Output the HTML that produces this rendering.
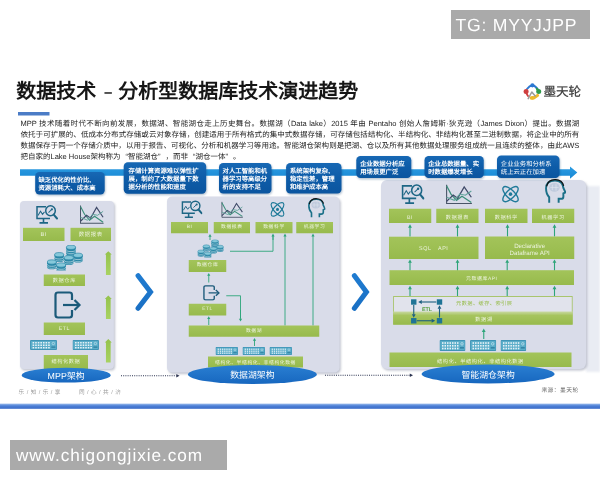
<!DOCTYPE html>
<html lang="zh-CN">
<head>
<meta charset="utf-8">
<title>数据技术 - 分析型数据库技术演进趋势</title>
<style>
html,body{margin:0;padding:0;}
body{width:600px;height:480px;overflow:hidden;background:#ffffff;position:relative;font-family:"Liberation Sans",sans-serif;}
#stage{position:absolute;left:0;top:0;width:600px;height:480px;overflow:hidden;background:#fff;}
#stage svg{position:absolute;left:0;top:0;}
.t{text-rendering:geometricPrecision;position:absolute;margin:0;padding:0;font-family:"Liberation Sans",sans-serif;overflow:visible;white-space:nowrap;}
#soft{filter:blur(0.35px);}
.ql,.qr{display:inline-block;width:1em;}
.ql{text-align:right;}
.qr{text-align:left;}
</style>
</head>
<body>
<div id="stage">
<div id="soft">
<svg width="600" height="480" viewBox="0 0 600 480">
<defs>
<linearGradient id="gg" x1="0" y1="0" x2="0" y2="1"><stop offset="0" stop-color="#a3c45a"/><stop offset="1" stop-color="#97ba4c"/></linearGradient>
<linearGradient id="gg2" x1="0" y1="0" x2="0" y2="1"><stop offset="0" stop-color="#c9d9a4"/><stop offset=".3" stop-color="#a6c45e"/><stop offset="1" stop-color="#97ba4c"/></linearGradient>
<linearGradient id="fa" x1="0" y1="0" x2="0" y2="1"><stop offset="0" stop-color="#94c24c"/><stop offset="1" stop-color="#a8d262"/></linearGradient>
<linearGradient id="cg" x1="0" y1="0" x2="0" y2="1"><stop offset="0" stop-color="#1768b4"/><stop offset=".5" stop-color="#0e5ca8"/><stop offset="1" stop-color="#0a559f"/></linearGradient>
<linearGradient id="bg" x1="0" y1="0" x2="0" y2="1"><stop offset="0" stop-color="#2c9ce2"/><stop offset="1" stop-color="#1888d4"/></linearGradient>
<linearGradient id="eg" x1="0" y1="0" x2="0" y2="1"><stop offset="0" stop-color="#2a7fd2"/><stop offset="1" stop-color="#1767bf"/></linearGradient>
<linearGradient id="chg" x1="0" y1="0" x2="0" y2="1"><stop offset="0" stop-color="#1f7bd0"/><stop offset="1" stop-color="#1a70c4"/></linearGradient>
<linearGradient id="lg" x1="0" y1="0" x2="0" y2="1"><stop offset="0" stop-color="#9cbcec"/><stop offset=".45" stop-color="#4c7fd6"/><stop offset="1" stop-color="#3b6cc8"/></linearGradient>
<filter id="b1" x="-20%" y="-20%" width="140%" height="140%"><feGaussianBlur stdDeviation="0.9"/></filter>
<filter id="b2" x="-20%" y="-20%" width="140%" height="140%"><feGaussianBlur stdDeviation="1.3"/></filter>

<g id="cyl">
<path d="M-10,0 V10 A10,4.6 0 0 0 10,10 V0Z" fill="#2b87a7"/>
<path d="M-10,4 A10,4.6 0 0 0 10,4" fill="none" stroke="#cfe6ee" stroke-width="1.3"/>
<path d="M-10,8 A10,4.6 0 0 0 10,8" fill="none" stroke="#cfe6ee" stroke-width="1.1"/>
<ellipse cx="0" cy="0" rx="9.6" ry="4.3" fill="#86c8da" stroke="#2b87a7" stroke-width="1.4"/>
</g>

<symbol id="mon" viewBox="0 0 46 40" preserveAspectRatio="none">
<path d="M22,4 H4 V27 H30" fill="none" stroke="#1d6685" stroke-width="3"/>
<path d="M17,28 V34 M9,35.5 H26" stroke="#1d6685" stroke-width="3.2" fill="none"/>
<path d="M6,21 L11,13 L15,19 L19,14" stroke="#1d6685" stroke-width="2" fill="none"/>
<circle cx="31" cy="12" r="9.6" fill="#d9dce9" stroke="#1d6685" stroke-width="3"/>
<path d="M27,15.5 L33.5,9.5" stroke="#1d6685" stroke-width="2"/>
<circle cx="33.8" cy="9.2" r="2.2" fill="#1d6685"/>
<path d="M37.5,19.5 L44,27" stroke="#1d6685" stroke-width="4" stroke-linecap="round"/>
</symbol>

<symbol id="cht" viewBox="0 0 50 42" preserveAspectRatio="none">
<path d="M2,2 V38 H48" fill="none" stroke="#4a5568" stroke-width="2"/>
<path d="M2,4 L10,20 L20,32 L30,24 L47,36" fill="none" stroke="#3c8f7a" stroke-width="2.3"/>
<path d="M2,34 L14,22 L22,28 L34,6 L47,26" fill="none" stroke="#3f4a68" stroke-width="2.3"/>
<path d="M2,26 L16,32 L26,20 L36,22 L47,14" fill="none" stroke="#5fa39a" stroke-width="1.9"/>
</symbol>

<symbol id="exp" viewBox="0 0 56 56" preserveAspectRatio="none">
<path d="M36,18 V8 Q36,3 31,3 H8 Q3,3 3,8 V48 Q3,53 8,53 H31 Q36,53 36,48 V38" fill="none" stroke="#1b5a7a" stroke-width="4.4"/>
<path d="M18,28 H50" stroke="#1b5a7a" stroke-width="4.4" fill="none"/>
<path d="M41,18 L51,28 L41,38" stroke="#1b5a7a" stroke-width="4.4" fill="none"/>
</symbol>

<symbol id="atm" viewBox="0 0 40 40" preserveAspectRatio="none">
<ellipse cx="20" cy="20" rx="19" ry="8" transform="rotate(45 20 20)" fill="none" stroke="#1f7a99" stroke-width="2.6"/>
<ellipse cx="20" cy="20" rx="19" ry="8" transform="rotate(-45 20 20)" fill="none" stroke="#1f7a99" stroke-width="2.6"/>
<circle cx="20" cy="20" r="3.4" fill="#1f7a99"/>
</symbol>

<symbol id="hed" viewBox="0 0 40 46" preserveAspectRatio="none">
<path d="M8,44 V34 Q2,28 2,18 Q2,3 19,3 Q34,3 35,17 L39,25 L35,27 V33 Q35,37 30,37 H26 V44" fill="none" stroke="#1b7088" stroke-width="3.7"/>
<path d="M3,14 Q6,1 20,1.5 Q33,2 35.5,13" fill="none" stroke="#111" stroke-width="2.4"/>
<ellipse cx="18" cy="16" rx="10" ry="8" fill="#b9c6da" opacity=".8"/>
<path d="M10,16 H26 M14,11 V21 M21,10 V22" stroke="#dfe6f0" stroke-width="1.2"/>
</symbol>

<symbol id="dbs" viewBox="0 0 75 51" preserveAspectRatio="none">
<use href="#cyl" x="50" y="9.5"/>
<use href="#cyl" x="50" y="4.6"/>
<use href="#cyl" x="25.4" y="19.4"/>
<use href="#cyl" x="64.6" y="20.6"/>
<use href="#cyl" x="45.4" y="25.4"/>
<use href="#cyl" x="10" y="34"/>
<use href="#cyl" x="29.4" y="40"/>
</symbol>

<symbol id="srv" viewBox="0 0 52 20" preserveAspectRatio="none">
<rect x="0" y="0" width="52" height="20" rx="2" fill="#3f94b6"/>
<rect x="1.5" y="2" width="49" height="16" rx="1" fill="#5badc9"/>
<g fill="#e8f3f8">
<rect x="5" y="4" width="3" height="3"/><rect x="10" y="4" width="3" height="3"/><rect x="15" y="4" width="3" height="3"/><rect x="20" y="4" width="3" height="3"/><rect x="25" y="4" width="3" height="3"/><rect x="30" y="4" width="3" height="3"/><rect x="35" y="4" width="3" height="3"/>
<rect x="5" y="9" width="3" height="3"/><rect x="10" y="9" width="3" height="3"/><rect x="15" y="9" width="3" height="3"/><rect x="20" y="9" width="3" height="3"/><rect x="25" y="9" width="3" height="3"/><rect x="30" y="9" width="3" height="3"/><rect x="35" y="9" width="3" height="3"/>
<rect x="5" y="14" width="3" height="3"/><rect x="10" y="14" width="3" height="3"/><rect x="15" y="14" width="3" height="3"/><rect x="20" y="14" width="3" height="3"/><rect x="25" y="14" width="3" height="3"/><rect x="30" y="14" width="3" height="3"/><rect x="35" y="14" width="3" height="3"/>
</g>
<circle cx="45" cy="7" r="2.4" fill="none" stroke="#e8f3f8" stroke-width="1"/>
<rect x="41" y="13" width="8" height="2.5" fill="#2d7f9f"/>
</symbol>
</defs>
<path d="M20,169.3 H570 V166.4 L577.3,172.5 L570,178.8 V175.7 H20 Z" fill="url(#bg)"/>
<rect x="21.20" y="202.60" width="93.90" height="167.90" rx="4" fill="#8d93a8" opacity=".55" filter="url(#b2)"/>
<rect x="20.00" y="201.10" width="93.90" height="167.90" rx="4" fill="#d9dce9" />
<use href="#mon" x="35.00" y="204.60" width="23.00" height="20.60"/>
<use href="#cht" x="79.50" y="204.40" width="25.10" height="20.80"/>
<rect x="23.00" y="227.80" width="41.50" height="13.20" rx="0" fill="url(#gg)" />
<rect x="70.50" y="227.80" width="40.50" height="13.20" rx="0" fill="url(#gg)" />
<use href="#dbs" x="47.00" y="245.00" width="36.00" height="25.50"/>
<rect x="43.75" y="274.50" width="41.25" height="11.50" rx="0" fill="url(#gg)" />
<use href="#exp" x="54.00" y="291.00" width="28.00" height="28.00"/>
<rect x="43.75" y="322.50" width="41.25" height="12.50" rx="0" fill="url(#gg)" />
<use href="#srv" x="30.00" y="340.00" width="27.00" height="10.00"/>
<use href="#srv" x="72.50" y="340.00" width="26.50" height="10.00"/>
<rect x="43.75" y="355.00" width="44.25" height="14.00" rx="0" fill="url(#gg)" />
<path d="M108.3,251.2 L111.8,254.6 L110.64999999999999,254.6 L110.64999999999999,275 L105.95,275 L105.95,254.6 L104.8,254.6 Z" fill="url(#fa)"/>
<path d="M108.3,295.5 L111.8,298.9 L110.64999999999999,298.9 L110.64999999999999,319 L105.95,319 L105.95,298.9 L104.8,298.9 Z" fill="url(#fa)"/>
<path d="M108.3,339 L111.8,342.4 L110.64999999999999,342.4 L110.64999999999999,362.6 L105.95,362.6 L105.95,342.4 L104.8,342.4 Z" fill="url(#fa)"/>
<ellipse cx="66.2" cy="375.2" rx="44.6" ry="7.4" fill="url(#eg)"/>
<rect x="35.80" y="173.30" width="69.50" height="22.30" rx="4.2" fill="#0a3a6a" opacity=".35" filter="url(#b1)"/>
<rect x="35.20" y="172.10" width="69.50" height="22.30" rx="4.2" fill="url(#cg)" />
<path d="M138.1,275.75 L150.5,292 L138.1,308.25" stroke="url(#chg)" stroke-width="5.1" stroke-linecap="round" stroke-linejoin="miter" fill="none"/>
<path d="M121,375.7 L176.5,375.7" stroke="#2b3350" stroke-width="1.1" stroke-dasharray="1 1.2" fill="none"/>
<path d="M179.5,375.7 L176.3,374.0 L176.3,377.4 Z" fill="#2b3350"/>
<rect x="168.20" y="198.10" width="172.60" height="175.90" rx="5" fill="#8d93a8" opacity=".55" filter="url(#b2)"/>
<rect x="167.00" y="196.60" width="172.60" height="175.90" rx="5" fill="#d9dce9" />
<rect x="124.30" y="163.50" width="82.50" height="31.40" rx="4.2" fill="#0a3a6a" opacity=".35" filter="url(#b1)"/>
<rect x="123.70" y="162.30" width="82.50" height="31.40" rx="4.2" fill="url(#cg)" />
<rect x="219.60" y="164.30" width="52.50" height="30.50" rx="4.2" fill="#0a3a6a" opacity=".35" filter="url(#b1)"/>
<rect x="219.00" y="163.10" width="52.50" height="30.50" rx="4.2" fill="url(#cg)" />
<rect x="286.70" y="164.30" width="55.40" height="30.50" rx="4.2" fill="#0a3a6a" opacity=".35" filter="url(#b1)"/>
<rect x="286.10" y="163.10" width="55.40" height="30.50" rx="4.2" fill="url(#cg)" />
<use href="#mon" x="180.50" y="200.00" width="22.00" height="19.50"/>
<use href="#cht" x="221.00" y="201.00" width="22.75" height="18.00"/>
<use href="#atm" x="268.75" y="200.00" width="17.50" height="18.75"/>
<use href="#hed" x="308.00" y="198.00" width="17.50" height="20.00"/>
<rect x="171.00" y="222.00" width="37.00" height="11.25" rx="0" fill="url(#gg)" />
<rect x="213.75" y="222.00" width="36.25" height="11.25" rx="0" fill="url(#gg)" />
<rect x="255.50" y="222.00" width="37.00" height="11.25" rx="0" fill="url(#gg)" />
<rect x="296.25" y="222.00" width="36.75" height="11.25" rx="0" fill="url(#gg)" />
<path d="M210,240 L210,236.0" stroke="#2ea57a" stroke-width="0.9" fill="none"/>
<path d="M210,234 L211.6,236.8 L208.4,236.8 Z" fill="#2ea57a"/>
<use href="#dbs" x="197.50" y="239.50" width="26.25" height="18.00"/>
<path d="M230,251.25 H273 V236" stroke="#2ea57a" stroke-width=".9" fill="none"/>
<path d="M273,240 L273,235.6" stroke="#2ea57a" stroke-width="0.9" fill="none"/>
<path d="M273,233.6 L274.6,236.4 L271.4,236.4 Z" fill="#2ea57a"/>
<path d="M285,325.5 L285,235.6" stroke="#2ea57a" stroke-width="0.9" fill="none"/>
<path d="M285,233.6 L286.6,236.4 L283.4,236.4 Z" fill="#2ea57a"/>
<path d="M313,325.5 L313,235.6" stroke="#2ea57a" stroke-width="0.9" fill="none"/>
<path d="M313,233.6 L314.6,236.4 L311.4,236.4 Z" fill="#2ea57a"/>
<rect x="188.75" y="260.00" width="37.50" height="12.00" rx="0" fill="url(#gg)" />
<path d="M208.75,282.5 L208.75,275.0" stroke="#2ea57a" stroke-width="0.9" fill="none"/>
<path d="M208.75,273 L210.35,275.8 L207.15,275.8 Z" fill="#2ea57a"/>
<use href="#exp" x="203.00" y="285.00" width="17.50" height="15.75"/>
<path d="M226.25,295.75 H240.5 V318" stroke="#2ea57a" stroke-width=".9" fill="none"/>
<path d="M240.5,310 L240.5,319.5" stroke="#2ea57a" stroke-width="0.9" fill="none"/>
<path d="M240.5,321.5 L242.1,318.7 L238.9,318.7 Z" fill="#2ea57a"/>
<rect x="188.75" y="303.75" width="37.50" height="11.75" rx="0" fill="url(#gg)" />
<path d="M208.75,325 L208.75,318.3" stroke="#2ea57a" stroke-width="0.9" fill="none"/>
<path d="M208.75,316.3 L210.35,319.1 L207.15,319.1 Z" fill="#2ea57a"/>
<rect x="188.75" y="325.50" width="130.50" height="11.25" rx="0" fill="url(#gg)" />
<path d="M254.5,346 L254.5,340.0" stroke="#2ea57a" stroke-width="0.9" fill="none"/>
<path d="M254.5,338 L256.1,340.8 L252.9,340.8 Z" fill="#2ea57a"/>
<use href="#srv" x="215.50" y="347.00" width="22.50" height="8.00"/>
<use href="#srv" x="242.50" y="347.00" width="22.50" height="8.00"/>
<use href="#srv" x="269.50" y="347.00" width="22.50" height="8.00"/>
<rect x="208.00" y="356.50" width="95.00" height="11.00" rx="0" fill="url(#gg)" />
<ellipse cx="252.4" cy="374.5" rx="64.4" ry="9.6" fill="url(#eg)"/>
<path d="M354.4,275.75 L366.4,292 L354.4,308.25" stroke="url(#chg)" stroke-width="5.1" stroke-linecap="round" stroke-linejoin="miter" fill="none"/>
<path d="M325,375.3 L410,375.3" stroke="#2b3350" stroke-width="1.1" stroke-dasharray="1 1.2" fill="none"/>
<path d="M413,375.3 L409.8,373.6 L409.8,377.0 Z" fill="#2b3350"/>
<rect x="586" y="186" width="14" height="186" fill="#e9ecf3" filter="url(#b2)"/>
<rect x="382.20" y="181.50" width="205.00" height="189.00" rx="6" fill="#8d93a8" opacity=".55" filter="url(#b2)"/>
<rect x="381.00" y="180.00" width="205.00" height="189.00" rx="6" fill="#d9dce9" />
<rect x="356.90" y="157.20" width="55.00" height="22.00" rx="4.2" fill="#0a3a6a" opacity=".35" filter="url(#b1)"/>
<rect x="356.30" y="156.00" width="55.00" height="22.00" rx="4.2" fill="url(#cg)" />
<rect x="425.10" y="157.20" width="59.25" height="22.00" rx="4.2" fill="#0a3a6a" opacity=".35" filter="url(#b1)"/>
<rect x="424.50" y="156.00" width="59.25" height="22.00" rx="4.2" fill="url(#cg)" />
<rect x="497.60" y="156.70" width="62.50" height="22.50" rx="4.2" fill="#0a3a6a" opacity=".35" filter="url(#b1)"/>
<rect x="497.00" y="155.50" width="62.50" height="22.50" rx="4.2" fill="url(#cg)" />
<use href="#mon" x="400.50" y="183.75" width="24.00" height="21.75"/>
<use href="#cht" x="445.50" y="183.75" width="27.50" height="21.75"/>
<use href="#atm" x="500.00" y="183.75" width="21.00" height="20.75"/>
<use href="#hed" x="545.00" y="178.75" width="21.00" height="25.00"/>
<rect x="389.00" y="208.75" width="42.25" height="14.25" rx="0" fill="url(#gg)" />
<rect x="436.25" y="208.75" width="42.25" height="14.25" rx="0" fill="url(#gg)" />
<rect x="485.00" y="208.75" width="42.50" height="14.25" rx="0" fill="url(#gg)" />
<rect x="532.00" y="208.75" width="42.25" height="14.25" rx="0" fill="url(#gg)" />
<path d="M410,236.5 L410,226.70000000000002" stroke="#2ea57a" stroke-width="1.1" fill="none"/>
<path d="M410,224.3 L411.92,227.66000000000003 L408.08,227.66000000000003 Z" fill="#2ea57a"/>
<path d="M457.5,236.5 L457.5,226.70000000000002" stroke="#2ea57a" stroke-width="1.1" fill="none"/>
<path d="M457.5,224.3 L459.42,227.66000000000003 L455.58,227.66000000000003 Z" fill="#2ea57a"/>
<path d="M507.5,236.5 L507.5,226.70000000000002" stroke="#2ea57a" stroke-width="1.1" fill="none"/>
<path d="M507.5,224.3 L509.42,227.66000000000003 L505.58,227.66000000000003 Z" fill="#2ea57a"/>
<path d="M554.5,236.5 L554.5,226.70000000000002" stroke="#2ea57a" stroke-width="1.1" fill="none"/>
<path d="M554.5,224.3 L556.42,227.66000000000003 L552.58,227.66000000000003 Z" fill="#2ea57a"/>
<rect x="389.00" y="236.70" width="89.50" height="22.30" rx="0" fill="url(#gg)" />
<rect x="485.00" y="236.50" width="89.25" height="22.50" rx="0" fill="url(#gg)" />
<path d="M410,270.8 L410,261.79999999999995" stroke="#2ea57a" stroke-width="1.1" fill="none"/>
<path d="M410,259.4 L411.92,262.76 L408.08,262.76 Z" fill="#2ea57a"/>
<path d="M457.5,270.8 L457.5,261.79999999999995" stroke="#2ea57a" stroke-width="1.1" fill="none"/>
<path d="M457.5,259.4 L459.42,262.76 L455.58,262.76 Z" fill="#2ea57a"/>
<path d="M507.2,270.8 L507.2,261.79999999999995" stroke="#2ea57a" stroke-width="1.1" fill="none"/>
<path d="M507.2,259.4 L509.12,262.76 L505.28,262.76 Z" fill="#2ea57a"/>
<path d="M554.5,270.8 L554.5,261.79999999999995" stroke="#2ea57a" stroke-width="1.1" fill="none"/>
<path d="M554.5,259.4 L556.42,262.76 L552.58,262.76 Z" fill="#2ea57a"/>
<rect x="389.50" y="270.20" width="184.50" height="14.80" rx="0" fill="url(#gg)" />
<path d="M410,296.5 L410,288.2" stroke="#2ea57a" stroke-width="1.1" fill="none"/>
<path d="M410,285.8 L411.92,289.16 L408.08,289.16 Z" fill="#2ea57a"/>
<path d="M457.5,296.5 L457.5,288.2" stroke="#2ea57a" stroke-width="1.1" fill="none"/>
<path d="M457.5,285.8 L459.42,289.16 L455.58,289.16 Z" fill="#2ea57a"/>
<path d="M507.2,296.5 L507.2,288.2" stroke="#2ea57a" stroke-width="1.1" fill="none"/>
<path d="M507.2,285.8 L509.12,289.16 L505.28,289.16 Z" fill="#2ea57a"/>
<path d="M554.5,296.5 L554.5,288.2" stroke="#2ea57a" stroke-width="1.1" fill="none"/>
<path d="M554.5,285.8 L556.42,289.16 L552.58,289.16 Z" fill="#2ea57a"/>
<rect x="393.20" y="296.00" width="179.40" height="28.60" rx="0" fill="#a3c260" />
<rect x="394.00" y="296.90" width="177.80" height="15.60" rx="0" fill="#e1e3ec" />
<rect x="393.20" y="311.50" width="179.40" height="13.10" rx="0" fill="url(#gg2)" />
<rect x="411.05" y="299.30" width="5.40" height="5.40" rx="0" fill="#1f7496" />
<rect x="436.80" y="299.30" width="5.40" height="5.40" rx="0" fill="#1f7496" />
<rect x="411.05" y="318.05" width="5.40" height="5.40" rx="0" fill="#1f7496" />
<rect x="436.80" y="318.05" width="5.40" height="5.40" rx="0" fill="#1f7496" />
<path d="M436.3,302 H421.5" stroke="#1d5f80" stroke-width="1.1"/><path d="M418.2,302 l3.6,-1.9 v3.8z" fill="#1d5f80"/>
<path d="M413.75,305 V314.6" stroke="#1d5f80" stroke-width="1.1"/><path d="M413.75,317.8 l-1.9,-3.6 h3.8z" fill="#1d5f80"/>
<path d="M416.8,320.75 H431.8" stroke="#1d5f80" stroke-width="1.1"/><path d="M435.2,320.75 l-3.6,-1.9 v3.8z" fill="#1d5f80"/>
<path d="M439.5,317.6 V308.6" stroke="#1d5f80" stroke-width="1.1"/><path d="M439.5,305.2 l-1.9,3.6 h3.8z" fill="#1d5f80"/>
<path d="M483.75,339 L483.75,331.0" stroke="#2ea57a" stroke-width="1.1" fill="none"/>
<path d="M483.75,328.6 L485.67,331.96000000000004 L481.83,331.96000000000004 Z" fill="#2ea57a"/>
<use href="#srv" x="439.50" y="340.00" width="26.00" height="11.00"/>
<use href="#srv" x="470.00" y="340.00" width="26.25" height="11.00"/>
<use href="#srv" x="500.50" y="340.00" width="25.75" height="11.00"/>
<rect x="389.50" y="352.50" width="182.00" height="14.50" rx="0" fill="url(#gg)" />
<ellipse cx="488.1" cy="374" rx="66.5" ry="9.4" fill="url(#eg)"/>
<rect x="18.00" y="112.00" width="31.50" height="3.50" rx="0" fill="#4b7cc6" />
<g fill="none" stroke-linecap="round" stroke-linejoin="round">
<path d="M527,89 Q529.5,85.6 532.4,85.2 Q535.5,85.8 538,89.6" stroke="#2c78d2" stroke-width="2"/>
<circle cx="532.4" cy="85.3" r="2.1" fill="#2c78d2"/>
<path d="M536.8,88.6 L538.6,91.3" stroke="#2f9a4b" stroke-width="2"/>
<circle cx="538.7" cy="91.4" r="2.5" fill="#2f9a4b"/>
<path d="M526.2,91.6 Q526.4,94 528,96" stroke="#cf3f3f" stroke-width="2"/>
<circle cx="526.1" cy="91.4" r="2.5" fill="#cf3f3f"/>
<path d="M531.2,98 Q534,98.6 537.6,95.4" stroke="#edb92e" stroke-width="3"/>
<ellipse cx="532.6" cy="97.8" rx="2.6" ry="1.9" fill="#edb92e"/>
<path d="M528.2,98.6 L531.8,92 L535.2,96" stroke="#9b9b9b" stroke-width="1.5"/>
</g>
<rect x="0.00" y="403.60" width="600.00" height="5.20" rx="0" fill="url(#lg)" />
</svg>
<div class="t" style="left:23.00px;top:229.10px;width:41.50px;height:13.20px;font-size:5.6px;line-height:13.20px;color:#fff;font-weight:normal;text-align:center;opacity:.8;letter-spacing:.6px;">BI</div>
<div class="t" style="left:70.50px;top:229.10px;width:40.50px;height:13.20px;font-size:5.4px;line-height:13.20px;color:#fff;font-weight:normal;text-align:center;opacity:.8;letter-spacing:.6px;">数据报表</div>
<div class="t" style="left:43.75px;top:275.70px;width:41.25px;height:11.50px;font-size:5.2px;line-height:11.50px;color:#fff;font-weight:normal;text-align:center;opacity:.8;letter-spacing:.6px;">数据仓库</div>
<div class="t" style="left:43.75px;top:322.90px;width:41.25px;height:12.50px;font-size:5.2px;line-height:12.50px;color:#fff;font-weight:normal;text-align:center;opacity:.8;letter-spacing:.6px;">ETL</div>
<div class="t" style="left:43.75px;top:355.40px;width:44.25px;height:14.00px;font-size:5.2px;line-height:14.00px;color:#fff;font-weight:normal;text-align:center;opacity:.8;letter-spacing:.6px;">结构化数据</div>
<div class="t" style="left:21.60px;top:368.70px;width:89.20px;height:14.80px;font-size:8.8px;line-height:14.80px;color:#fff;font-weight:normal;text-align:center;letter-spacing:.1px;">MPP架构</div>
<div class="t" style="left:38.50px;top:177.00px;width:76.20px;height:16.30px;font-size:6.36px;line-height:8.15px;color:#fff;font-weight:bold;text-align:left;">缺乏优化的性价比,<br>资源消耗大、成本高</div>
<div class="t" style="left:128.60px;top:167.68px;width:87.60px;height:24.45px;font-size:6.36px;line-height:8.15px;color:#fff;font-weight:bold;text-align:left;">存储计算资源难以弹性扩<br>展，制约了大数据量下数<br>据分析的性能和速度</div>
<div class="t" style="left:222.60px;top:168.03px;width:58.90px;height:24.45px;font-size:6.36px;line-height:8.15px;color:#fff;font-weight:bold;text-align:left;">对人工智能和机<br>器学习等高级分<br>析的支持不足</div>
<div class="t" style="left:290.00px;top:168.03px;width:61.50px;height:24.45px;font-size:6.36px;line-height:8.15px;color:#fff;font-weight:bold;text-align:left;">系统架构复杂,<br>稳定性差，管理<br>和维护成本高</div>
<div class="t" style="left:171.00px;top:222.40px;width:37.00px;height:11.25px;font-size:4.8px;line-height:11.25px;color:#fff;font-weight:normal;text-align:center;opacity:.8;letter-spacing:.6px;">BI</div>
<div class="t" style="left:213.75px;top:222.40px;width:36.25px;height:11.25px;font-size:4.8px;line-height:11.25px;color:#fff;font-weight:normal;text-align:center;opacity:.8;letter-spacing:.6px;">数据报表</div>
<div class="t" style="left:255.50px;top:222.40px;width:37.00px;height:11.25px;font-size:4.8px;line-height:11.25px;color:#fff;font-weight:normal;text-align:center;opacity:.8;letter-spacing:.6px;">数据科学</div>
<div class="t" style="left:296.25px;top:222.40px;width:36.75px;height:11.25px;font-size:4.8px;line-height:11.25px;color:#fff;font-weight:normal;text-align:center;opacity:.8;letter-spacing:.6px;">机器学习</div>
<div class="t" style="left:188.75px;top:260.40px;width:37.50px;height:12.00px;font-size:4.8px;line-height:12.00px;color:#fff;font-weight:normal;text-align:center;opacity:.8;letter-spacing:.6px;">数据仓库</div>
<div class="t" style="left:188.75px;top:304.15px;width:37.50px;height:11.75px;font-size:4.8px;line-height:11.75px;color:#fff;font-weight:normal;text-align:center;opacity:.8;letter-spacing:.6px;">ETL</div>
<div class="t" style="left:188.75px;top:325.90px;width:130.50px;height:11.25px;font-size:4.8px;line-height:11.25px;color:#fff;font-weight:normal;text-align:center;opacity:.8;letter-spacing:.6px;">数据湖</div>
<div class="t" style="left:208.00px;top:357.80px;width:95.00px;height:11.00px;font-size:4.8px;line-height:11.00px;color:#fff;font-weight:normal;text-align:center;opacity:.8;letter-spacing:.6px;">结构化、半结构化、非结构化数据</div>
<div class="t" style="left:188.00px;top:365.80px;width:128.80px;height:19.20px;font-size:8.8px;line-height:19.20px;color:#fff;font-weight:normal;text-align:center;letter-spacing:.1px;">数据湖架构</div>
<div class="t" style="left:360.20px;top:160.75px;width:61.10px;height:16.30px;font-size:6.36px;line-height:8.15px;color:#fff;font-weight:bold;text-align:left;">企业数据分析应<br>用场景更广泛</div>
<div class="t" style="left:428.20px;top:160.75px;width:65.55px;height:16.30px;font-size:6.36px;line-height:8.15px;color:#fff;font-weight:bold;text-align:left;">企业总数据量、实<br>时数据爆发增长</div>
<div class="t" style="left:500.80px;top:160.50px;width:68.70px;height:16.30px;font-size:6.36px;line-height:8.15px;color:#fff;font-weight:normal;text-align:left;">企业业务和分析系<br>统上云正在加速</div>
<div class="t" style="left:389.00px;top:211.15px;width:42.25px;height:14.25px;font-size:5.2px;line-height:14.25px;color:#fff;font-weight:normal;text-align:center;opacity:.8;letter-spacing:.6px;">BI</div>
<div class="t" style="left:436.25px;top:211.15px;width:42.25px;height:14.25px;font-size:5.2px;line-height:14.25px;color:#fff;font-weight:normal;text-align:center;opacity:.8;letter-spacing:.6px;">数据报表</div>
<div class="t" style="left:485.00px;top:211.15px;width:42.50px;height:14.25px;font-size:5.2px;line-height:14.25px;color:#fff;font-weight:normal;text-align:center;opacity:.8;letter-spacing:.6px;">数据科学</div>
<div class="t" style="left:532.00px;top:211.15px;width:42.25px;height:14.25px;font-size:5.2px;line-height:14.25px;color:#fff;font-weight:normal;text-align:center;opacity:.8;letter-spacing:.6px;">机器学习</div>
<div class="t" style="left:389.00px;top:238.10px;width:89.50px;height:22.30px;font-size:5.4px;line-height:22.30px;color:#fff;font-weight:normal;text-align:center;opacity:.8;letter-spacing:.6px;">SQL&nbsp;&nbsp;&nbsp;API</div>
<div class="t" style="left:485.00px;top:244.15px;width:89.25px;height:13.00px;font-size:6.2px;line-height:6.50px;color:#fff;font-weight:normal;text-align:center;opacity:.8;">Declarative<br>Dataframe API</div>
<div class="t" style="left:389.50px;top:272.80px;width:184.50px;height:14.80px;font-size:4.9px;line-height:14.80px;color:#fff;font-weight:normal;text-align:center;opacity:.8;letter-spacing:.6px;">元数据库API</div>
<div class="t" style="left:456.00px;top:297.00px;width:104.00px;height:14.00px;font-size:5.2px;line-height:14.00px;color:#98bd4e;font-weight:normal;text-align:left;letter-spacing:.45px;">元数据、缓存、索引层</div>
<div class="t" style="left:393.00px;top:314.00px;width:182.00px;height:12.00px;font-size:5.2px;line-height:12.00px;color:#fff;font-weight:normal;text-align:center;opacity:.8;letter-spacing:.6px;">数据湖</div>
<div class="t" style="left:417.00px;top:306.00px;width:20.00px;height:9.00px;font-size:5.4px;line-height:9.00px;color:#5aa043;font-weight:bold;text-align:center;">ETL</div>
<div class="t" style="left:389.50px;top:354.70px;width:182.00px;height:14.50px;font-size:5.2px;line-height:14.50px;color:#fff;font-weight:normal;text-align:center;opacity:.8;letter-spacing:.6px;">结构化、半结构化、非结构化数据</div>
<div class="t" style="left:421.60px;top:365.50px;width:133.00px;height:18.80px;font-size:8.8px;line-height:18.80px;color:#fff;font-weight:normal;text-align:center;letter-spacing:.1px;">智能湖仓架构</div>
<div class="t p" style="left:20.5px;top:117.60px;width:558.8px;height:11px;line-height:11px;font-size:7.5px;color:#1c1c1c;text-align:left;white-space:nowrap;text-align-last:justify;">MPP 技术随着时代不断向前发展，数据湖、智能湖仓走上历史舞台。数据湖（Data lake）2015 年由 Pentaho 创始人詹姆斯·狄克逊（James Dixon）提出。数据湖</div>
<div class="t p" style="left:20.5px;top:128.80px;width:558.8px;height:11px;line-height:11px;font-size:7.5px;color:#1c1c1c;text-align:left;white-space:nowrap;text-align-last:justify;">依托于可扩展的、低成本分布式存储或云对象存储，创建适用于所有格式的集中式数据存储，可存储包括结构化、半结构化、非结构化甚至二进制数据，将企业中的所有</div>
<div class="t p" style="left:20.5px;top:140.00px;width:558.8px;height:11px;line-height:11px;font-size:7.5px;color:#1c1c1c;text-align:left;white-space:nowrap;text-align-last:justify;">数据保存于同一个存储介质中，以用于报告、可视化、分析和机器学习等用途。智能湖仓架构则是把湖、仓以及所有其他数据处理服务组成统一且连续的整体，由此AWS</div>
<div class="t p" style="left:20.5px;top:151.30px;width:400px;height:11px;line-height:11px;font-size:7.5px;color:#1c1c1c;text-align:left;white-space:nowrap;">把自家的Lake House架构称为<span class="ql">“</span>智能湖仓<span class="qr">”</span>，而非<span class="ql">“</span>湖仓一体<span class="qr">”</span>。</div>
<div class="t" id="title" style="left:16.2px;top:77.8px;width:400px;height:28px;line-height:28px;font-size:20px;font-weight:bold;color:#161616;text-align:left;white-space:nowrap;">数据技术<span style="display:inline-block;width:22px;text-align:center;font-size:15px;position:relative;top:-1px;left:1px;">–</span>分析型数据库技术演进趋势</div>
<div class="t" style="left:543.4px;top:82.5px;width:45px;height:18px;line-height:18px;font-size:12.6px;font-weight:normal;color:#3c3c3c;-webkit-text-stroke:.25px #3c3c3c;text-align:left;white-space:nowrap;">墨天轮</div>
<div class="t" style="left:18.6px;top:387.6px;width:60px;height:10px;line-height:10px;font-size:5.6px;color:#9a9a9a;text-align:left;white-space:nowrap;letter-spacing:2.45px;">乐/知/乐/享</div>
<div class="t" style="left:79px;top:387.6px;width:60px;height:10px;line-height:10px;font-size:5.6px;color:#9a9a9a;text-align:left;white-space:nowrap;letter-spacing:2.45px;">同/心/共/济</div>
<div class="t" style="left:532.6px;top:386.4px;width:46px;height:10px;line-height:10px;font-size:5.8px;color:#6a6a6a;text-align:right;white-space:nowrap;letter-spacing:.4px;">来源：墨天轮</div>
<div class="t" style="left:451px;top:10px;width:139px;height:29.4px;line-height:29.5px;font-size:17.6px;color:#fff;background:#aaaaaa;text-align:left;white-space:nowrap;letter-spacing:.74px;"><span style="margin-left:4.6px;position:relative;top:.9px;">TG: MYYJJPP</span></div>
<div class="t" style="left:10.3px;top:440.3px;width:216.8px;height:29.4px;line-height:29.5px;font-size:17.2px;color:#fff;background:#aaaaaa;text-align:left;white-space:nowrap;letter-spacing:.95px;"><span style="margin-left:5.6px;position:relative;top:.4px;">www.chigongjixie.com</span></div>
</div>
</div>
</body>
</html>
